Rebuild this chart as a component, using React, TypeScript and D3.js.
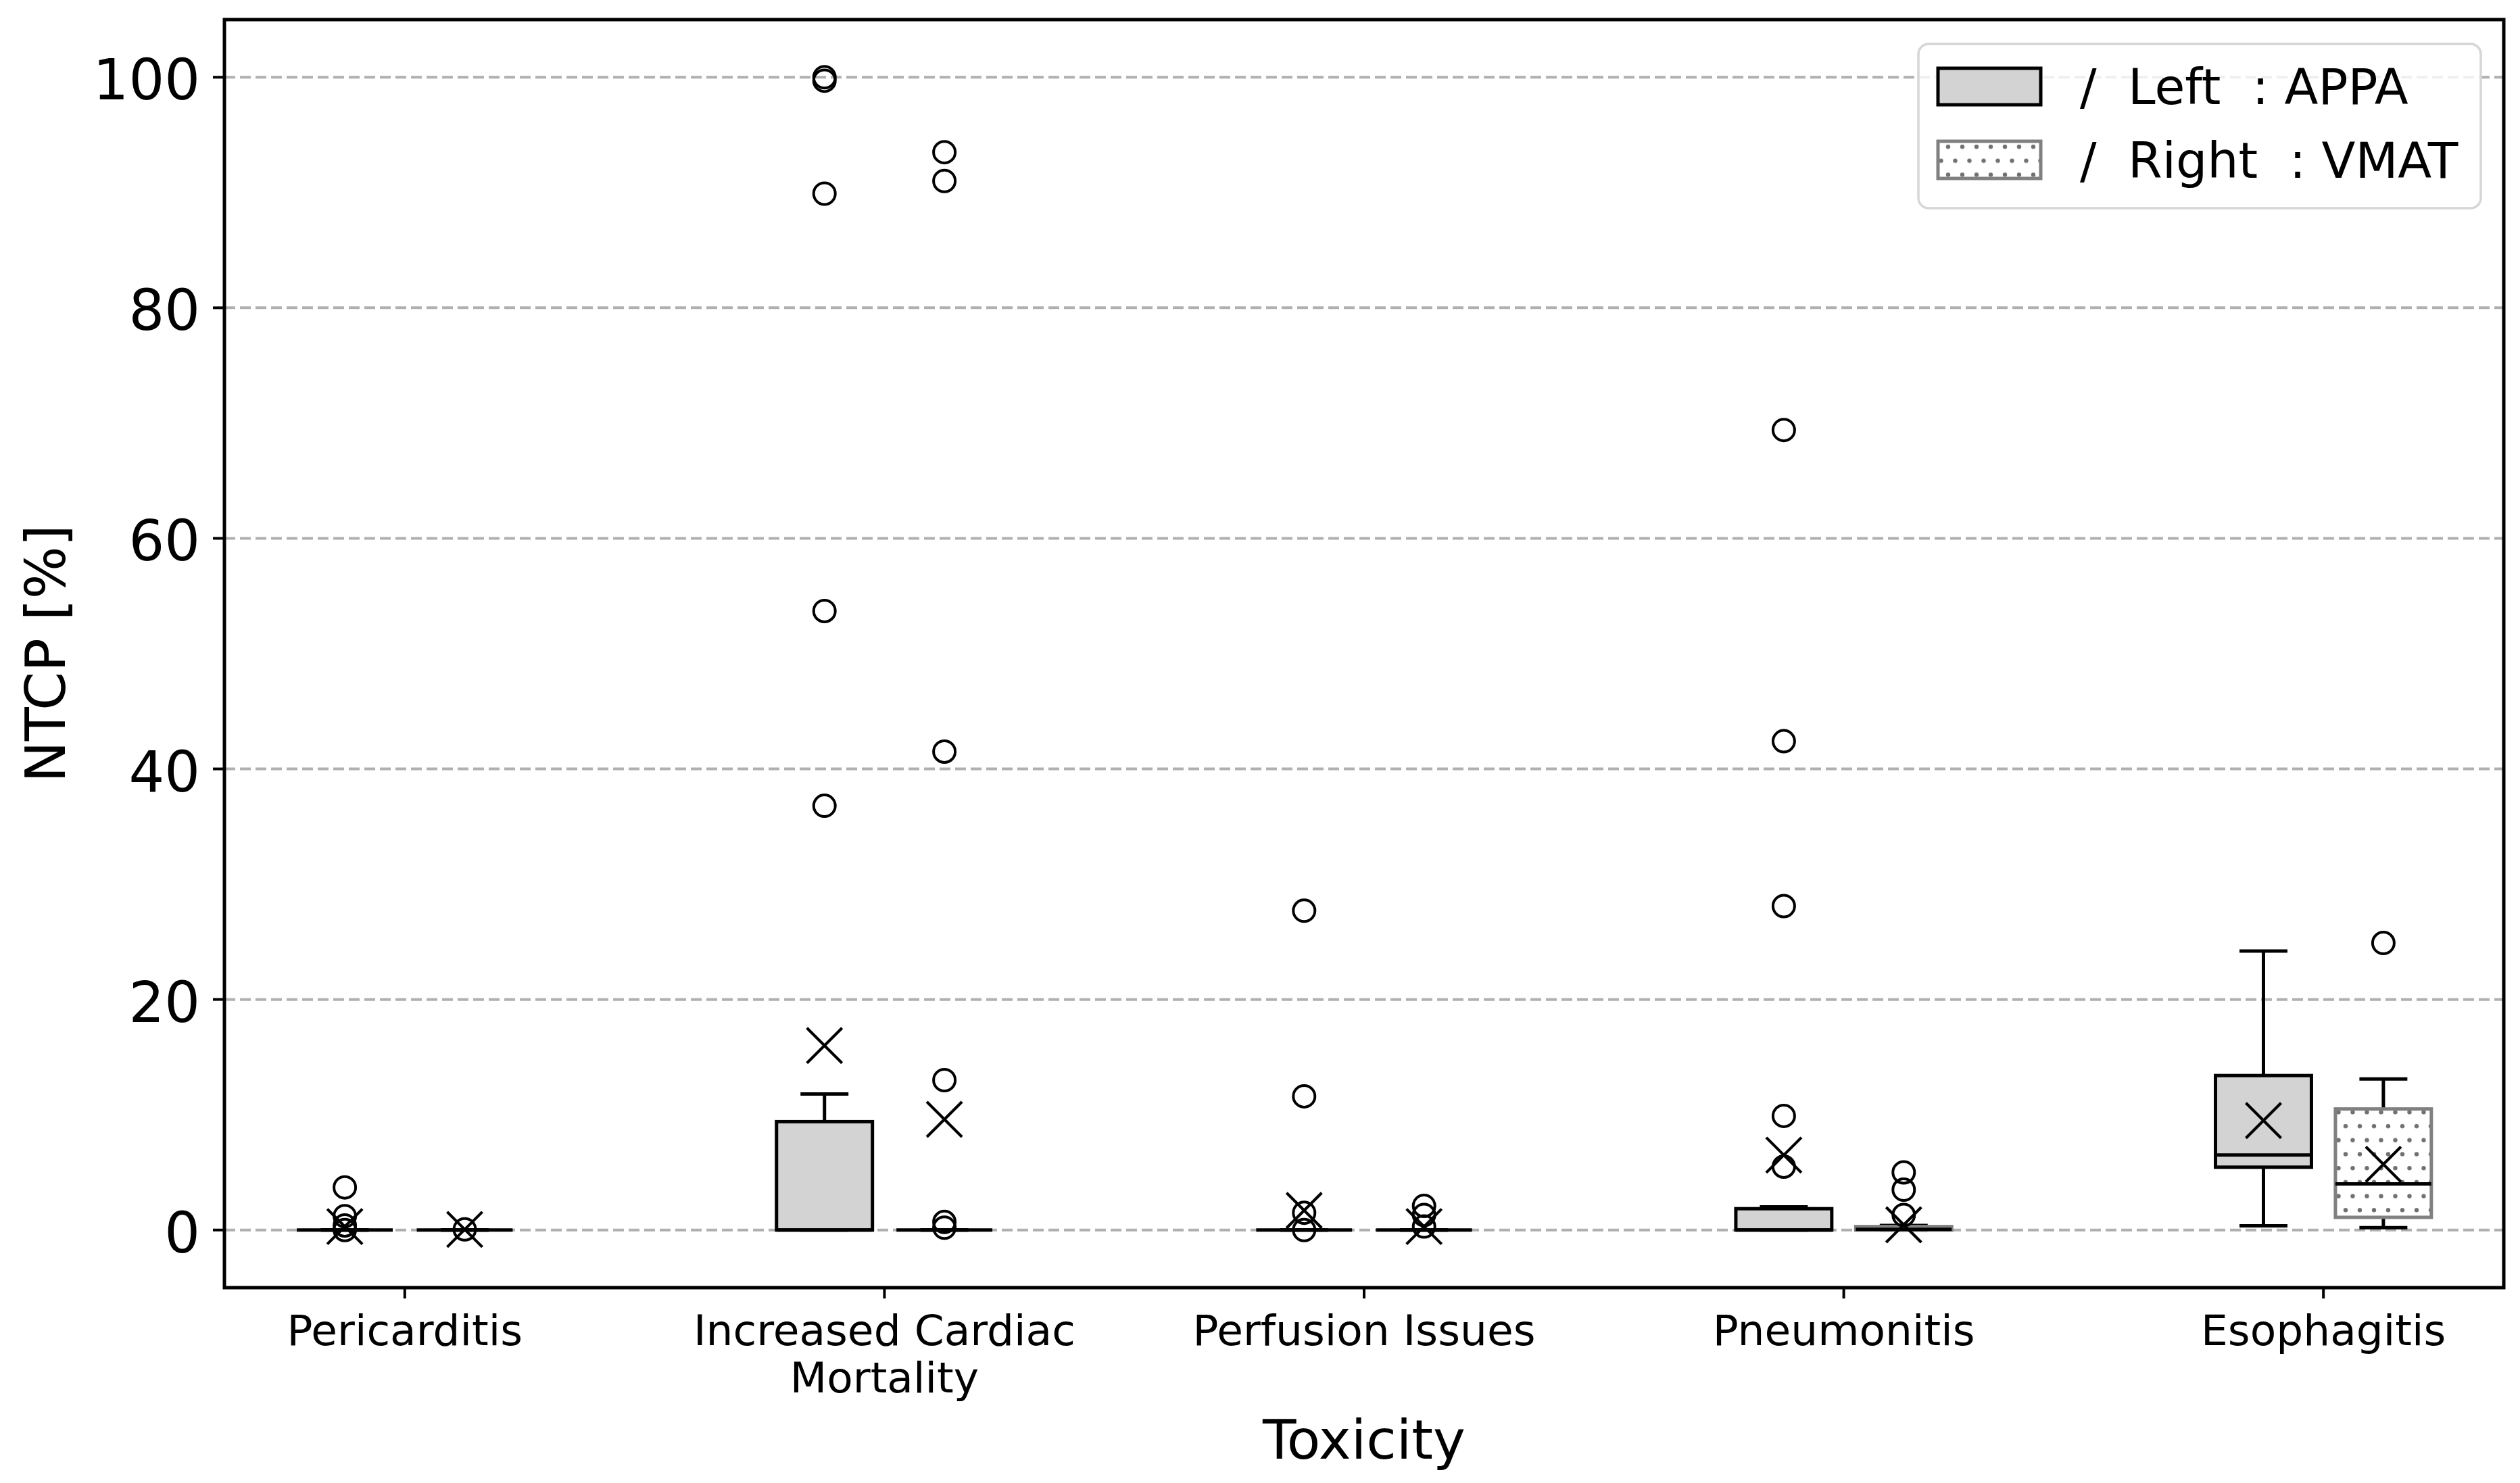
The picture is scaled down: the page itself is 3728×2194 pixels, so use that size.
import React from 'react';
import * as d3 from 'd3';

// Toxicity categories (tick labels, line-broken like the original)
const CATEGORIES = [['Pericarditis'], ['Increased Cardiac', 'Mortality'], ['Perfusion Issues'], ['Pneumonitis'], ['Esophagitis']];

// Box statistics: [q1, median, q3, whiskerLow, whiskerHigh]
const APPA_STATS = [
  [0, 0, 0, 0, 0],
  [0, 0, 9.4, 0, 11.8],
  [0, 0, 0, 0, 0],
  [0, 0, 1.85, 0, 2.0],
  [5.45, 6.5, 13.4, 0.36, 24.2],
];
const VMAT_STATS = [
  [0, 0, 0, 0, 0],
  [0, 0, 0, 0, 0],
  [0, 0, 0, 0, 0],
  [0, 0.05, 0.3, 0, 0.4],
  [1.1, 4.0, 10.5, 0.2, 13.1],
];
const APPA_MEANS = [0.3, 16.0, 1.7, 6.5, 9.5];
const VMAT_MEANS = [0.05, 9.6, 0.3, 0.45, 5.7];
const APPA_FLIERS = [
  [3.7, 1.2, 0.4, 0.0],
  [100, 99.7, 89.9, 53.7, 36.8],
  [27.7, 11.6, 1.5, 0.0],
  [69.4, 42.4, 28.1, 9.9, 5.5],
  [],
];
const VMAT_FLIERS = [
  [0.05],
  [93.5, 91.0, 41.5, 13.0, 0.7, 0.2],
  [2.1, 1.3, 0.3],
  [5.0, 3.5, 1.3],
  [24.9],
];
const Y_TICKS = [0, 20, 40, 60, 80, 100];

const W = 3728;
const H = 2194;
const PLOT = { left: 332, right: 3704, top: 29, bottom: 1905 };
const FONT = 'DejaVu Sans';

const x = d3.scaleLinear().domain([-0.376, 4.376]).range([PLOT.left, PLOT.right]);
const y = d3.scaleLinear().domain([-5, 105]).range([PLOT.bottom, PLOT.top]);

const OFFSET = 0.125;
const BOX_W = 0.2;
const LW = 5;

type BoxProps = { pos: number; stats: number[]; mean: number; fliers: number[]; vmat: boolean };

const Box: React.FC<BoxProps> = ({ pos, stats, mean, fliers, vmat }) => {
  const [q1, med, q3, lo, hi] = stats;
  const cx = x(pos);
  const x0 = x(pos - BOX_W / 2);
  const x1 = x(pos + BOX_W / 2);
  const c0 = x(pos - BOX_W / 4);
  const c1 = x(pos + BOX_W / 4);
  const m = 26;
  return (
    <g>
      <line x1={cx} x2={cx} y1={y(q3)} y2={y(hi)} stroke="#000" strokeWidth={LW} />
      <line x1={cx} x2={cx} y1={y(q1)} y2={y(lo)} stroke="#000" strokeWidth={LW} />
      <line x1={c0} x2={c1} y1={y(hi)} y2={y(hi)} stroke="#000" strokeWidth={LW} />
      <line x1={c0} x2={c1} y1={y(lo)} y2={y(lo)} stroke="#000" strokeWidth={LW} />
      <rect
        x={x0}
        y={y(q3)}
        width={x1 - x0}
        height={y(q1) - y(q3)}
        fill={vmat ? 'url(#dots)' : '#d3d3d3'}
        stroke={vmat ? '#808080' : '#000'}
        strokeWidth={LW}
      />
      <line x1={x0} x2={x1} y1={y(med)} y2={y(med)} stroke="#000" strokeWidth={LW} />
      {fliers.map((f, i) => (
        <circle key={i} cx={cx} cy={y(f)} r={16} fill="none" stroke="#000" strokeWidth={4} />
      ))}
      <path
        d={`M${cx - m},${y(mean) - m}L${cx + m},${y(mean) + m}M${cx - m},${y(mean) + m}L${cx + m},${y(mean) - m}`}
        stroke="#000"
        strokeWidth={4.2}
        fill="none"
      />
    </g>
  );
};

export default function App() {
  return (
    <svg
      width={W}
      height={H}
      viewBox={`0 0 ${W} ${H}`}
      style={{ position: 'absolute', left: 0, top: 0, background: '#fff' }}
      fontFamily={FONT}
    >
      <defs>
        <pattern id="dots" width={21} height={41.4} patternUnits="userSpaceOnUse">
          <rect width={21} height={41.4} fill="#fff" />
          <circle cx={5} cy={10} r={3.2} fill="#707070" />
          <circle cx={15.5} cy={30.7} r={3.2} fill="#707070" />
        </pattern>
      </defs>
      <rect width={W} height={H} fill="#fff" />

      {/* grid */}
      {Y_TICKS.map((t) => (
        <line
          key={t}
          x1={PLOT.left}
          x2={PLOT.right}
          y1={y(t)}
          y2={y(t)}
          stroke="#b0b0b0"
          strokeWidth={4}
          strokeDasharray="16 7"
        />
      ))}

      {/* boxes */}
      {CATEGORIES.map((_, i) => (
        <g key={i}>
          <Box pos={i - OFFSET} stats={APPA_STATS[i]} mean={APPA_MEANS[i]} fliers={APPA_FLIERS[i]} vmat={false} />
          <Box pos={i + OFFSET} stats={VMAT_STATS[i]} mean={VMAT_MEANS[i]} fliers={VMAT_FLIERS[i]} vmat={true} />
        </g>
      ))}

      {/* frame */}
      <rect
        x={PLOT.left}
        y={PLOT.top}
        width={PLOT.right - PLOT.left}
        height={PLOT.bottom - PLOT.top}
        fill="none"
        stroke="#000"
        strokeWidth={5}
      />

      {/* y axis */}
      {Y_TICKS.map((t) => (
        <g key={t}>
          <line x1={PLOT.left - 17} x2={PLOT.left} y1={y(t)} y2={y(t)} stroke="#000" strokeWidth={4} />
          <text x={296} y={y(t) + 33} textAnchor="end" fontSize={83}>
            {t}
          </text>
        </g>
      ))}
      <text
        transform={`translate(96,${(PLOT.top + PLOT.bottom) / 2}) rotate(-90)`}
        textAnchor="middle"
        fontSize={82}
      >
        NTCP [%]
      </text>

      {/* x axis */}
      {CATEGORIES.map((lines, i) => (
        <g key={i}>
          <line x1={x(i)} x2={x(i)} y1={PLOT.bottom} y2={PLOT.bottom + 16} stroke="#000" strokeWidth={4} />
          <text textAnchor="middle" fontSize={63}>
            {lines.map((l, j) => (
              <tspan key={j} x={x(i)} y={1990 + j * 70}>
                {l}
              </tspan>
            ))}
          </text>
        </g>
      ))}
      <text x={(PLOT.left + PLOT.right) / 2} y={2158} textAnchor="middle" fontSize={81}>
        Toxicity
      </text>

      {/* legend */}
      <g>
        <rect x={2838} y={65} width={832} height={243} rx={15} fill="#fff" fillOpacity={0.8} stroke="#d6d6d6" strokeWidth={3.5} />
        <rect x={2867} y={101} width={152} height={54} fill="#d3d3d3" stroke="#000" strokeWidth={5} />
        <rect x={2867} y={209} width={152} height={55} fill="url(#dots)" stroke="#808080" strokeWidth={5} />
        <text x={3077} y={154} fontSize={73} xmlSpace="preserve" style={{ whiteSpace: 'pre' }}>
          {'/  Left  : APPA'}
        </text>
        <text x={3077} y={263} fontSize={73} xmlSpace="preserve" style={{ whiteSpace: 'pre' }}>
          {'/  Right  : VMAT'}
        </text>
      </g>
    </svg>
  );
}
